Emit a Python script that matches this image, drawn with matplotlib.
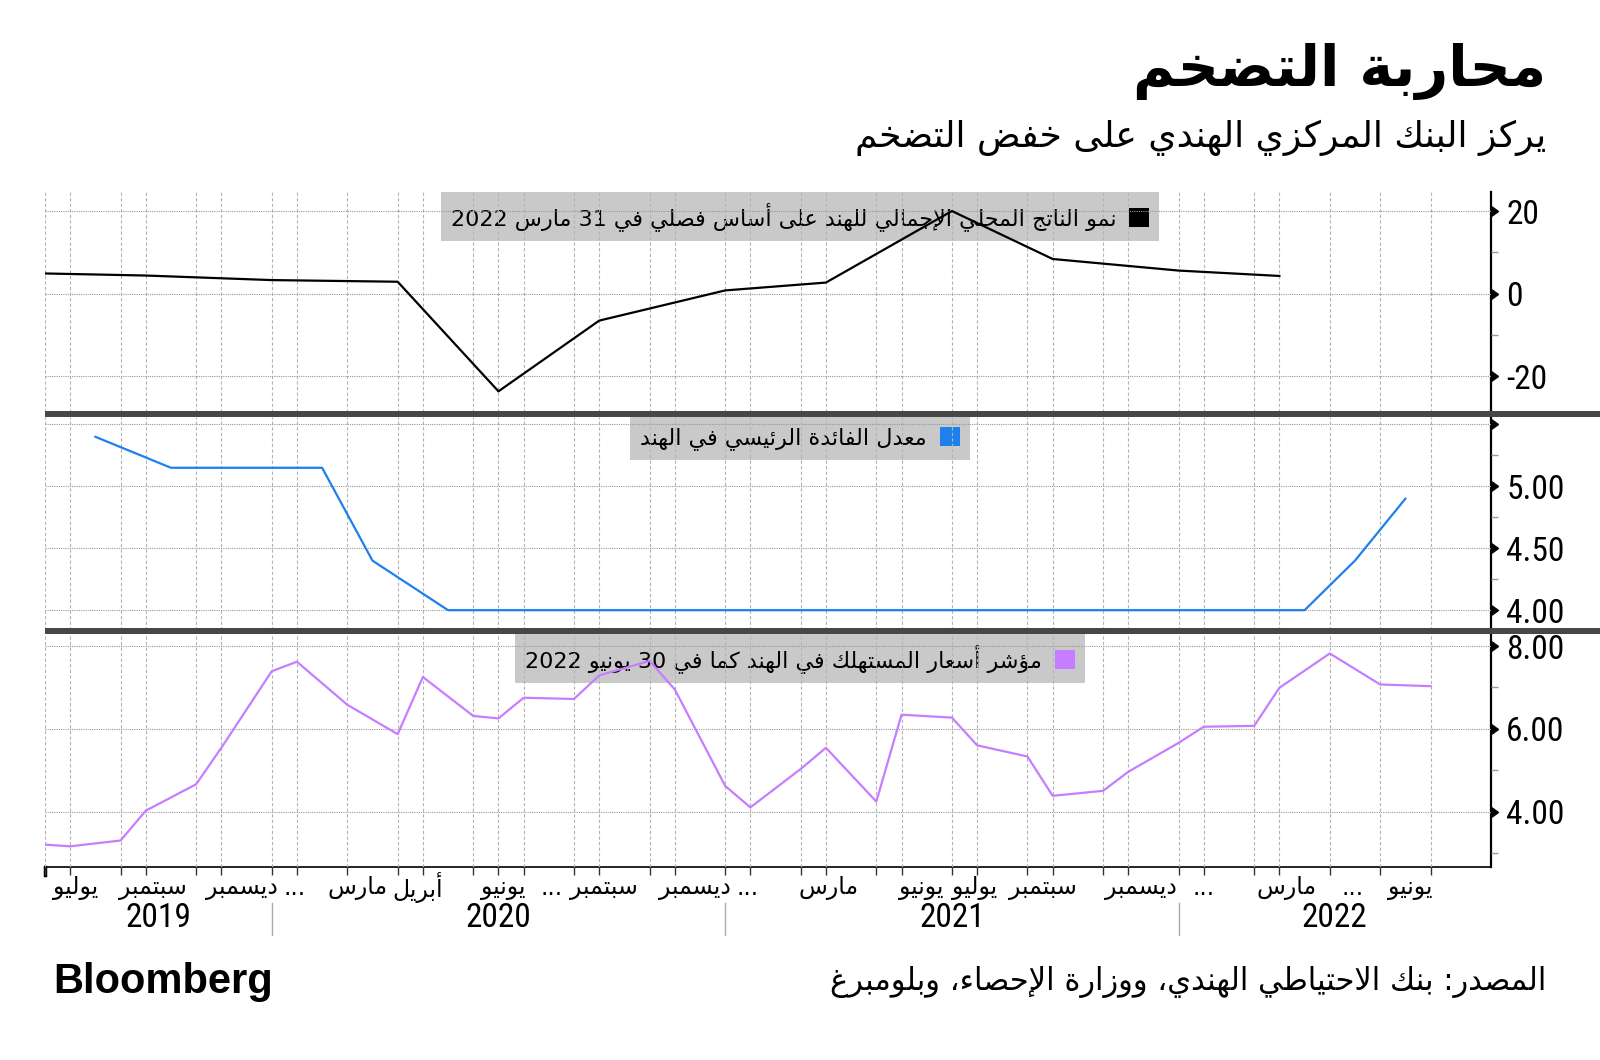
import re
import numpy as np
import matplotlib
matplotlib.use('Agg')
import matplotlib.pyplot as plt
from matplotlib.patches import Patch, Rectangle

# condensed face for the numbers; first installed one wins
NUM = ['Roboto Condensed', 'Fira Sans Condensed', 'PT Sans Narrow', 'Archivo Narrow', 'DejaVu Sans']
AR = 'DejaVu Sans'
plt.rcParams['font.family'] = NUM

# ---- data ----
# category axis: every date on which one of the series has a point
dates = ['2019-06-30', '2019-07-31', '2019-08-07', '2019-08-31', '2019-09-30', '2019-10-04',
         '2019-10-31', '2019-11-30', '2019-12-05', '2019-12-31', '2020-01-31', '2020-02-06',
         '2020-02-29', '2020-03-27', '2020-03-31', '2020-04-30', '2020-05-22', '2020-05-31',
         '2020-06-30', '2020-07-31', '2020-08-06', '2020-08-31', '2020-09-30', '2020-10-09',
         '2020-10-31', '2020-11-30', '2020-12-04', '2020-12-31', '2021-01-31', '2021-02-05',
         '2021-02-28', '2021-03-31', '2021-04-07', '2021-04-30', '2021-05-31', '2021-06-04',
         '2021-06-30', '2021-07-31', '2021-08-06', '2021-08-31', '2021-09-30', '2021-10-08',
         '2021-10-31', '2021-11-30', '2021-12-08', '2021-12-31', '2022-01-31', '2022-02-10',
         '2022-02-28', '2022-03-31', '2022-04-08', '2022-04-30', '2022-05-04', '2022-05-31',
         '2022-06-08', '2022-06-30']

gdp_dates = ['2019-06-30', '2019-09-30', '2019-12-31', '2020-03-31', '2020-06-30', '2020-09-30',
             '2020-12-31', '2021-03-31', '2021-06-30', '2021-09-30', '2021-12-31', '2022-03-31']
gdp = [4.9, 4.4, 3.3, 2.9, -23.6, -6.5, 0.8, 2.7, 20.0, 8.4, 5.6, 4.3]

repo_dates = ['2019-08-07', '2019-10-04', '2019-12-05', '2020-02-06', '2020-03-27', '2020-05-22',
              '2020-08-06', '2020-10-09', '2020-12-04', '2021-02-05', '2021-04-07', '2021-06-04',
              '2021-08-06', '2021-10-08', '2021-12-08', '2022-02-10', '2022-04-08', '2022-05-04',
              '2022-06-08']
repo = [5.40, 5.15, 5.15, 5.15, 4.40, 4.00, 4.00, 4.00, 4.00, 4.00, 4.00, 4.00, 4.00, 4.00,
        4.00, 4.00, 4.00, 4.40, 4.90]

# monthly cpi readings sit on the month-end dates
cpi_dates = [d for d in dates if d[8:] in ('28', '29', '30', '31')]
cpi = [3.20, 3.16, 3.30, 4.02, 4.66, 5.54, 7.39, 7.62, 6.58, 5.87, 7.25, 6.31, 6.25, 6.75,
       6.72, 7.29, 7.64, 6.95, 4.62, 4.10, 5.03, 5.54, 4.24, 6.34, 6.27, 5.60, 5.33, 4.38,
       4.50, 4.96, 5.66, 6.05, 6.07, 6.99, 7.82, 7.07, 7.03]

month_labels = ['يوليو', 'سبتمبر', 'ديسمبر', '...', 'مارس', 'أبريل', 'يونيو', '...', 'سبتمبر',
                'ديسمبر', '...', 'مارس', 'يونيو', 'يوليو', 'سبتمبر', 'ديسمبر', '...', 'مارس',
                '...', 'يونيو']
month_label_pos = [1.2, 4.3, 7.8, 9.9, 12.4, 14.8, 18.2, 20.1, 22.2, 25.8, 27.9, 31.1, 34.8,
                   36.9, 39.6, 43.5, 46.0, 49.3, 51.9, 54.2]
years = ['2019', '2020', '2021', '2022']
year_bounds = [0, 9, 27, 45, 57.4]

title = 'محاربة التضخم'
subtitle = 'يركز البنك المركزي الهندي على خفض التضخم'
gdp_name = 'نمو الناتج المحلي الإجمالي للهند على أساس فصلي في 31 مارس 2022'
repo_name = 'معدل الفائدة الرئيسي في الهند'
cpi_name = 'مؤشر أسعار المستهلك في الهند كما في 30 يونيو 2022'
source = 'المصدر: بنك الاحتياطي الهندي، ووزارة الإحصاء، وبلومبرغ'

# ---- crude arabic shaping (matplotlib draws glyphs one by one, left to right) ----
AR_LETTERS = 'ءآأؤإئابةتثجحخدذرزسشصضطظعغفقكلمنهوىي'
AR_NFORMS = [1, 2, 2, 2, 2, 4, 2, 4, 2, 4, 4, 4, 4, 4, 2, 2, 2, 2, 4, 4, 4, 4, 4, 4, 4, 4, 4,
             4, 4, 4, 4, 4, 4, 2, 2, 4]
AR_BASE = {}
b = 0xFE80
for ch, n in zip(AR_LETTERS, AR_NFORMS):
    AR_BASE[ch] = (b, n)
    b += n
LAM_ALEF = {'آ': 0xFEF5, 'أ': 0xFEF7, 'إ': 0xFEF9, 'ا': 0xFEFB}


def shape(s):
    out = []
    i = 0
    while i < len(s):
        ch = s[i]
        if ch not in AR_BASE:
            out.append(ch)
            i += 1
            continue
        prev = s[i - 1] if i > 0 else ''
        jp = prev in AR_BASE and AR_BASE[prev][1] == 4
        if ch == 'ل' and i + 1 < len(s) and s[i + 1] in LAM_ALEF:
            out.append(chr(LAM_ALEF[s[i + 1]] + (1 if jp else 0)))
            i += 2
            continue
        base, nf = AR_BASE[ch]
        nxt = s[i + 1] if i + 1 < len(s) else ''
        jn = nf == 4 and nxt in AR_BASE and AR_BASE[nxt][1] > 1
        if nf == 1:
            f = base
        elif jp and jn:
            f = base + 3
        elif jp:
            f = base + 1
        elif jn:
            f = base + 2
        else:
            f = base
        out.append(chr(f))
        i += 1
    vis = ''.join(out)[::-1]
    return re.sub(r'[0-9]+', lambda m: m.group(0)[::-1], vis)


pos = {d: i for i, d in enumerate(dates)}
cpi_x = [pos[d] for d in cpi_dates]

fig = plt.figure(figsize=(16, 10.6), dpi=100)


def fy(px):
    return 1 - px / 1060


L, R = 45 / 1600, 1491 / 1600
ax1 = fig.add_axes([L, fy(412), R - L, (412 - 192) / 1060])
ax2 = fig.add_axes([L, fy(630), R - L, (630 - 417) / 1060])
ax3 = fig.add_axes([L, fy(867), R - L, (867 - 634) / 1060])

panels = [
    (ax1, gdp_dates, gdp, 'black', (-28.6, 24.6), [-20, 0, 20], ['-20', '0', '20'], [-10, 10],
     gdp_name),
    (ax2, repo_dates, repo, '#1e80ec', (3.84, 5.56), [4.0, 4.5, 5.0, 5.5],
     ['4.00', '4.50', '5.00', ''], [4.25, 4.75, 5.25], repo_name),
    (ax3, cpi_dates, cpi, '#c77dff', (2.66, 8.29), [4, 6, 8], ['4.00', '6.00', '8.00'],
     [3, 5, 7], cpi_name),
]

for ax, xd, yd, col, ylim, ticks, tlabels, minor, name in panels:
    ax.plot([pos[d] for d in xd], yd, color=col, lw=1.6, zorder=3)
    ax.set_xlim(0, 57.4)
    ax.set_ylim(*ylim)
    ax.set_xticks(cpi_x)
    ax.set_xticklabels([])
    ax.yaxis.tick_right()
    ax.set_yticks(ticks, labels=tlabels)
    ax.set_yticks(minor, minor=True)
    ax.tick_params(axis='y', which='major', length=0, pad=11, labelsize=24)
    ax.tick_params(axis='y', which='minor', length=5, width=1, color='#999999')
    ax.set_axisbelow(False)
    ax.grid(axis='x', ls=(0, (3, 2)), color='#b4b4b4', lw=0.8, zorder=2)
    ax.grid(axis='y', which='major', ls=(0, (1, 1)), color='#999999', lw=0.8, zorder=2)
    ax.plot(np.ones(len(ticks)), ticks, transform=ax.get_yaxis_transform(), ls='none',
            marker=9, ms=7, color='black', clip_on=False, zorder=5)
    for s in ('left', 'top', 'bottom'):
        ax.spines[s].set_visible(False)
    ax.spines['right'].set_linewidth(1.6)
    ax.patch.set_alpha(0)
    leg = ax.legend(handles=[Patch(facecolor=col, edgecolor='none', label=shape(name))],
                    loc='upper center', bbox_to_anchor=(0.5, ax.get_position().y1),
                    bbox_transform=fig.transFigure, markerfirst=False, frameon=True,
                    fancybox=False, borderaxespad=0, handlelength=0.9, handleheight=0.9,
                    handletextpad=0.6, borderpad=0.45, prop={'family': AR, 'size': 16})
    leg.get_frame().set_facecolor('#b8b8b8')
    leg.get_frame().set_alpha(0.75)
    leg.get_frame().set_edgecolor('none')
    leg.set_zorder(1)

for ax in (ax1, ax2):
    ax.tick_params(axis='x', length=0)

ax3.spines['bottom'].set_visible(True)
ax3.spines['bottom'].set_linewidth(1.2)
ax3.tick_params(axis='x', length=6, width=1, color='#333333')
# heavier tick at the first category, as in the original
ax3.plot([0, 0], [0, -0.035], transform=ax3.get_xaxis_transform(), color='black', lw=2.5,
         clip_on=False)

tx = ax3.get_xaxis_transform()
for lab, x in zip(month_labels, month_label_pos):
    ax3.text(x, -0.09, shape(lab), transform=tx, ha='center', va='center', fontsize=17,
             family=AR)
for i, y in enumerate(years):
    ax3.text((year_bounds[i] + year_bounds[i + 1]) / 2, -0.22, y, transform=tx, ha='center',
             va='center', fontsize=24)
for x in year_bounds[1:-1]:
    ax3.plot([x, x], [-0.155, -0.29], transform=tx, color='#aaaaaa', lw=1, clip_on=False)

# dark bars between the panels
for top in (411, 628):
    fig.add_artist(Rectangle((L, fy(top + 6)), 1 - L, 6 / 1060, transform=fig.transFigure,
                             facecolor='#474747', edgecolor='none', zorder=10))

fig.text(1546 / 1600, fy(71), shape(title), ha='right', va='center', fontsize=41,
         fontweight='bold', family=AR)
fig.text(1546 / 1600, fy(138), shape(subtitle), ha='right', va='center', fontsize=26, family=AR)
fig.text(53 / 1600, fy(982), 'Bloomberg', ha='left', va='center', fontsize=30,
         fontweight='bold', family='Liberation Sans')
fig.text(1546 / 1600, fy(982), shape(source), ha='right', va='center', fontsize=22, family=AR)

fig.savefig('out.png', dpi=100, facecolor='white')
